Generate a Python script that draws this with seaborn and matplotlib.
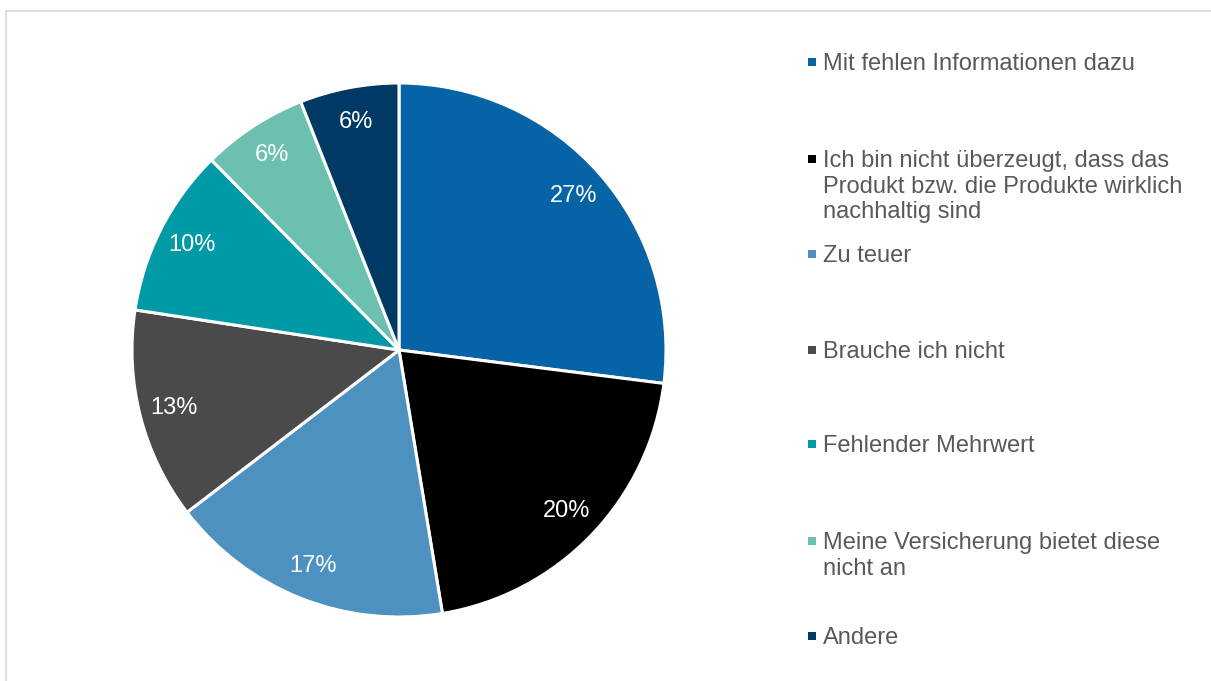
import matplotlib
matplotlib.use("Agg")
import matplotlib.pyplot as plt
import seaborn as sns
from matplotlib.patches import Rectangle

categories = [
    "Mit fehlen Informationen dazu",
    "Ich bin nicht überzeugt, dass das\nProdukt bzw. die Produkte wirklich\nnachhaltig sind",
    "Zu teuer",
    "Brauche ich nicht",
    "Fehlender Mehrwert",
    "Meine Versicherung bietet diese\nnicht an",
    "Andere",
]
values = [27.0, 20.4, 17.2, 12.8, 10.2, 6.4, 6.0]
colors = ["#0563A6", "#000000", "#4D91C0", "#4A4A4A", "#0099A6", "#6CC0B0", "#003A64"]

sns.set_theme(style="white")
plt.rcParams['font.family'] = ['Liberation Sans', 'DejaVu Sans']
palette = sns.color_palette(colors)

W, H = 1211, 681
fig = plt.figure(figsize=(W / 100, H / 100), dpi=100)
fig.patch.set_facecolor("white")

# pie axes: center (399,350), radius 267 px
cx, cy, r = 399, 350, 267
ax = fig.add_axes([(cx - r) / W, (H - cy - r) / H, 2 * r / W, 2 * r / H])
wedges, texts, autotexts = ax.pie(
    values, colors=palette, startangle=90, counterclock=False,
    autopct=lambda p: f"{p:.0f}%", pctdistance=0.87, radius=1.0,
    wedgeprops=dict(edgecolor="white", linewidth=2.2),
    textprops=dict(color="white", fontsize=17),
)
ax.set_xlim(-1, 1)
ax.set_ylim(-1, 1)
ax.set_aspect("equal")
ax.axis("off")

# frame lines
fig.add_artist(Rectangle((5.5 / W, -0.2), 2.0, (H - 10.5) / H + 0.2,
                         transform=fig.transFigure, fill=False,
                         edgecolor="#D9D9D9", linewidth=1.2))

# legend drawn manually to match spacing
first_line_y = [62, 159, 254, 350, 444, 541, 636]
sq = 8
for lab, col, yc in zip(categories, palette, first_line_y):
    fig.add_artist(Rectangle(((808) / W, (H - yc - sq / 2) / H), sq / W, sq / H,
                             transform=fig.transFigure, facecolor=col,
                             edgecolor="none"))
    fig.text(823 / W, (H - yc + 8.5) / H, lab, ha="left", va="top",
             fontsize=17, color="#595959", linespacing=1.2)

fig.savefig("out.png", dpi=100)
